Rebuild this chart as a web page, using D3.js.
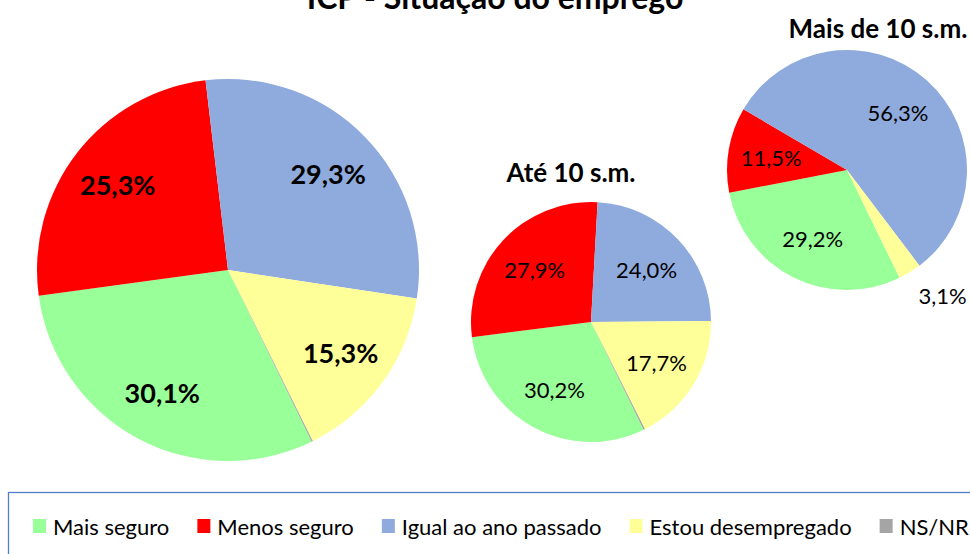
<!DOCTYPE html>
<html>
<head>
<meta charset="utf-8">
<script src="https://cdn.jsdelivr.net/npm/d3@7"></script>
<style>
  body { margin: 0; background: #fff; }
  svg { display: block; font-family: Lato, "Open Sans", sans-serif; }
</style>
</head>
<body>
<svg width="970" height="554"></svg>
<script>
const title = "ICP - Situação do emprego";
const categories = ["Mais seguro", "Menos seguro", "Igual ao ano passado", "Estou desempregado", "NS/NR"];
const colors = ["#99FF99", "#FF0000", "#8FAADC", "#FFFF99", "#A5A5A5"];
const pieTitles = ["", "Até 10 s.m.", "Mais de 10 s.m."];
const totalValues = [30.1, 25.3, 29.3, 15.3, 0.1];
const ate10Values = [30.2, 27.9, 24.0, 17.7, 0.2];
const mais10Values = [29.2, 11.5, 56.3, 3.1, 0.0];

const svg = d3.select("svg");
const color = d3.scaleOrdinal().domain(categories).range(colors);
const fmt = v => v.toFixed(1).replace(".", ",") + "%";

// first slice starts at ~154 degrees (Excel "angle of first slice")
const start = 154 * Math.PI / 180;
const pie = d3.pie().sort(null).value(d => d.value)
    .startAngle(start).endAngle(start + 2 * Math.PI);

const pies = [
    {values: totalValues, cx: 228, cy: 270, r: 191, lr: 0.73, size: 27, bold: true},
    {values: ate10Values, cx: 591, cy: 322, r: 120, lr: 0.64, size: 22, bold: false, tdx: -20, tdy: -20},
    {values: mais10Values, cx: 847, cy: 170, r: 120, lr: 0.64, size: 22, bold: false, tdx: 31, tdy: -12}
];

svg.append("text")
    .attr("x", 495).attr("y", 9)
    .attr("text-anchor", "middle")
    .attr("font-size", 32).attr("font-weight", "bold")
    .text(title);

pies.forEach(function(p, i) {
    const data = pie(p.values.map((v, j) => ({cat: categories[j], value: v})));
    const g = svg.append("g").attr("transform", `translate(${p.cx},${p.cy})`);
    const arc = d3.arc().innerRadius(0).outerRadius(p.r);
    const labelArc = d3.arc().innerRadius(p.r * p.lr).outerRadius(p.r * p.lr);
    const outerArc = d3.arc().innerRadius(p.r * 1.2).outerRadius(p.r * 1.2);

    g.selectAll("path")
        .data(data.filter(d => d.value > 0))
        .enter().append("path")
        .attr("fill", d => color(d.data.cat))
        .attr("d", arc);

    g.selectAll("text")
        .data(data.filter(d => d.value >= 1))
        .enter().append("text")
        .each(function(d) {
            const outside = d.value < 5;
            const pos = outside ? outerArc.centroid(d) : labelArc.centroid(d);
            d3.select(this)
                .attr("x", pos[0] - (outside ? 4 : 0)).attr("y", pos[1] + (outside ? 3 : 0))
                .attr("text-anchor", outside ? "start" : "middle");
        })
        .attr("dominant-baseline", "central")
        .attr("font-size", p.size)
        .attr("font-weight", p.bold ? "bold" : "normal")
        .attr("fill", "#000")
        .text(d => fmt(d.value));

    if (pieTitles[i]) {
        svg.append("text")
            .attr("x", p.cx + p.tdx)
            .attr("y", p.cy - p.r + p.tdy)
            .attr("text-anchor", "middle")
            .attr("font-size", 26).attr("font-weight", "bold")
            .text(pieTitles[i]);
    }
});

// legend
svg.append("rect")
    .attr("x", 8.5).attr("y", 492.5)
    .attr("width", 980).attr("height", 80)
    .attr("fill", "none")
    .attr("stroke", "#4F7FCC").attr("stroke-width", 1.3);

const legend = svg.append("g").attr("transform", "translate(33,526)");
let lx = 0;
categories.forEach(function(c) {
    const item = legend.append("g").attr("transform", `translate(${lx},0)`);
    item.append("rect")
        .attr("x", 0).attr("y", -7)
        .attr("width", 13).attr("height", 14)
        .attr("fill", color(c));
    const t = item.append("text")
        .attr("x", 20).attr("y", 0)
        .attr("dominant-baseline", "central")
        .attr("font-size", 22)
        .text(c);
    lx += 20 + t.node().getComputedTextLength() + 28;
});
</script>
</body>
</html>
